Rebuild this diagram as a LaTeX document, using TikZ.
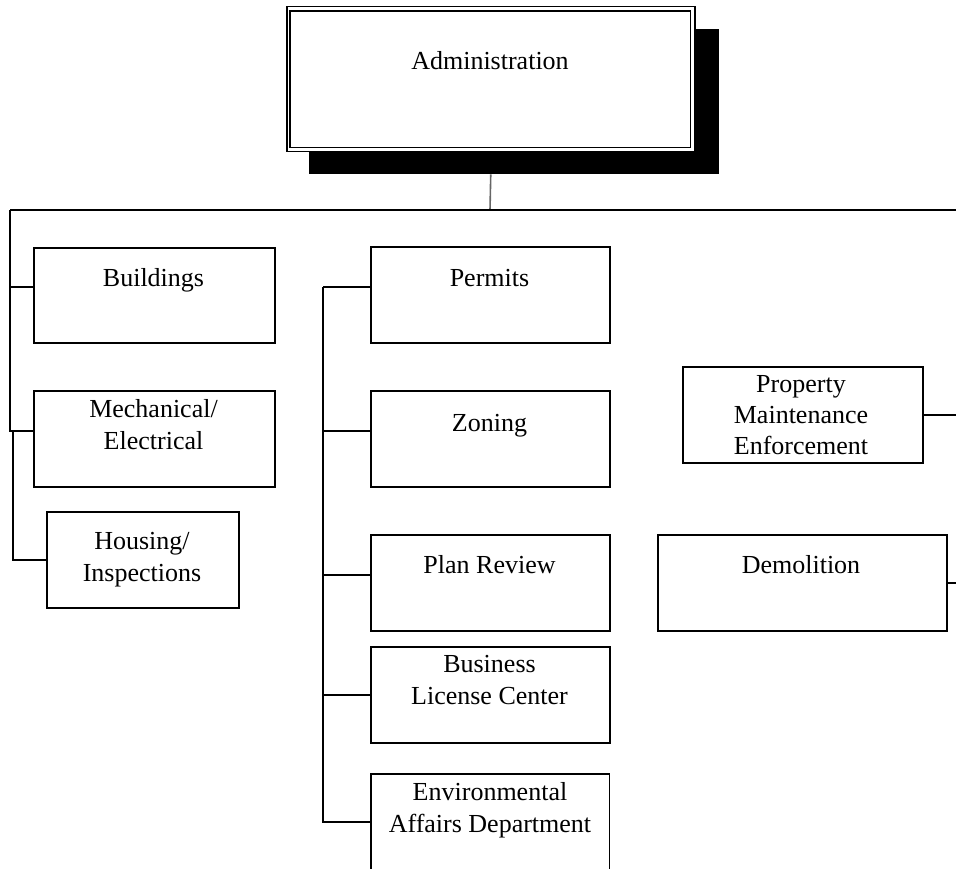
\documentclass[tikz,border=0pt]{standalone}
\usepackage{fontspec}
\setmainfont{Liberation Serif}
\begin{document}
\begin{tikzpicture}[x=1pt,y=-1pt,
  box/.style={draw, line width=1.6pt, fill=white, rectangle, inner sep=0pt, anchor=north west},
  conn/.style={line width=1.6pt},
  lbl/.style={font=\fontsize{26}{32}\selectfont, inner sep=0pt, anchor=base}]
\useasboundingbox (0,0) rectangle (956,869);

% Administration with shadow and double border
\node[fill=black, inner sep=0pt, minimum width=410pt, minimum height=145pt, anchor=north west] (shadow) at (309,29) {};
\node[box, line width=1.5pt, minimum width=408pt, minimum height=145pt] (admin) at (286,6) {};
\draw[line width=1.5pt] ([shift={(4pt,-5pt)}]admin.north west) rectangle ([shift={(-5pt,5pt)}]admin.south east);
\node[lbl] (tadmin) at (490,70) {Administration};

% boxes
\node[box, minimum width=241pt, minimum height=95pt] (bld) at (33,247) {};
\node[box, minimum width=241pt, minimum height=96pt] (mech) at (33,390) {};
\node[box, minimum width=192pt, minimum height=96pt] (house) at (46,511) {};
\node[box, minimum width=239pt, minimum height=96pt] (perm) at (370,246) {};
\node[box, minimum width=239pt, minimum height=96pt] (zon) at (370,390) {};
\node[box, minimum width=239pt, minimum height=96pt] (plan) at (370,534) {};
\node[box, minimum width=239pt, minimum height=96pt] (bus) at (370,646) {};
\node[inner sep=0pt, minimum width=238pt, minimum height=96pt, anchor=north west] (env) at (371,774) {};
\draw[line width=1.6pt] (env.south west) -- (env.north west) -- (env.north east) -- (env.south east);
\node[box, minimum width=240pt, minimum height=96pt] (prop) at (682,366) {};
\node[box, minimum width=289pt, minimum height=96pt] (demo) at (657,534) {};

% labels (one node per line, placed on its baseline)
\node[lbl] (tbld) at (153.5,287) {Buildings};
\node[lbl] (tmecha) at (153.5,417) {Mechanical/};
\node[lbl] (tmechb) at (153.5,449) {Electrical};
\node[lbl] (thousea) at (142,549) {Housing/};
\node[lbl] (thouseb) at (142,581) {Inspections};
\node[lbl] (tperm) at (489.5,286) {Permits};
\node[lbl] (tzon) at (489.5,431) {Zoning};
\node[lbl] (tplan) at (489.5,573) {Plan Review};
\node[lbl] (tbusa) at (489.5,672) {Business};
\node[lbl] (tbusb) at (489.5,704) {License Center};
\node[lbl] (tenva) at (490,800) {Environmental};
\node[lbl] (tenvb) at (490,832) {Affairs Department};
\node[lbl] (tpropa) at (801,392) {Property};
\node[lbl] (tpropb) at (801,423) {Maintenance};
\node[lbl] (tpropc) at (801,454) {Enforcement};
\node[lbl] (tdemo) at (801,573) {Demolition};

% connectors
\coordinate (top) at (490,210);
\coordinate (tl) at (10,210);
\coordinate (tr) at (956,210);
\coordinate (jog) at (13,430);
\coordinate (mid) at (323,287);
\draw[conn, gray!80!black] (admin.south |- shadow.south) -- (top);
\draw[conn] (tl) -- (tr);
\draw[conn] (tl) |- ([yshift=8.5pt]bld.west);
\draw[conn] (tl) |- ([yshift=8pt]mech.west);
\draw[conn] (jog) |- (house.west);
\draw[conn] (mid) -- (perm.west |- mid);
\draw[conn] (mid) |- ([yshift=8pt]zon.west);
\draw[conn] (mid) |- ([yshift=8pt]plan.west);
\draw[conn] (mid) |- (bus.west);
\draw[conn] (mid) |- (env.west);
\draw[conn] (prop.east) -- (prop.east -| tr);
\draw[conn] (demo.east) -- (demo.east -| tr);
\end{tikzpicture}
\end{document}
